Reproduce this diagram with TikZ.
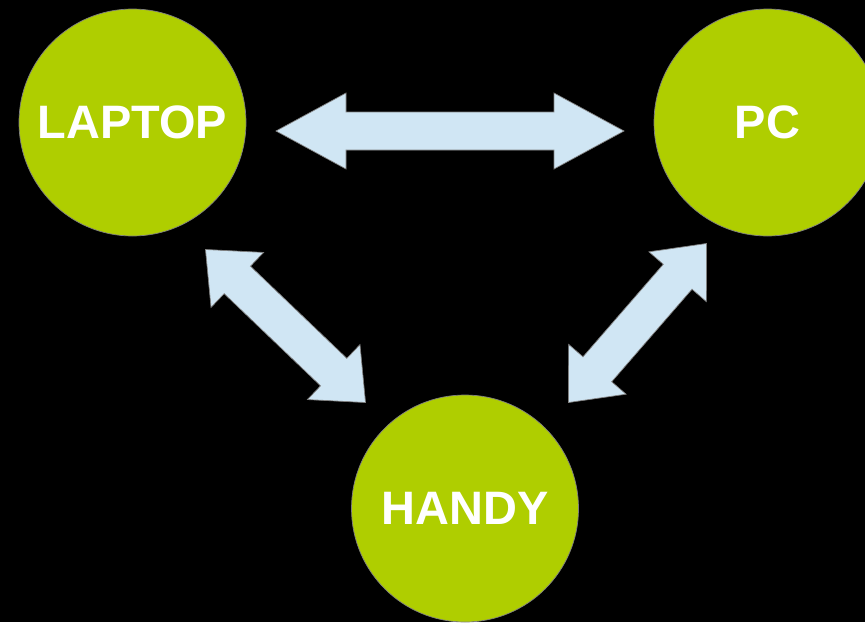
\documentclass[tikz,border=0pt]{standalone}
\usepackage{fontspec}
\setmainfont{Liberation Sans}
\usepackage{tikz}
\usetikzlibrary{calc}
\definecolor{devgreen}{RGB}{175,206,0}
\definecolor{linkblue}{RGB}{208,230,244}

% double block arrow between two named points, #3 = head length
\newcommand{\dblarrow}[3]{%
   \filldraw[link] (#1)
     -- ($(#1)!#3!(#2)!0.76cm!90:(#2)$)
     -- ($(#1)!#3!(#2)!0.38cm!90:(#2)$)
     -- ($(#2)!#3!(#1)!0.38cm!-90:(#1)$)
     -- ($(#2)!#3!(#1)!0.76cm!-90:(#1)$)
     -- (#2)
     -- ($(#2)!#3!(#1)!0.76cm!90:(#1)$)
     -- ($(#2)!#3!(#1)!0.38cm!90:(#1)$)
     -- ($(#1)!#3!(#2)!0.38cm!-90:(#2)$)
     -- ($(#1)!#3!(#2)!0.76cm!-90:(#2)$)
     -- cycle;}

\begin{document}
\begin{tikzpicture}[link/.style={fill=linkblue, draw=gray, line width=0.4pt}]
   \fill[black] (0,0) rectangle (17.3,-12.44);
   \useasboundingbox (0,0) rectangle (17.3,-12.44);
   \begin{scope}[every node/.style={circle, draw=gray, line width=0.4pt, fill=devgreen,
       minimum size=4.54cm, inner sep=0pt, text=white,
       font=\fontsize{26.7}{32}\selectfont\bfseries}]
    \node (laptop) at (2.65,-2.45) {LAPTOP};
    \node (pc) at (15.35,-2.45) {PC};
    \node (handy) at (9.3,-10.17) {HANDY};
   \end{scope}
   % arrow ends
   \coordinate (t1) at (5.52,-2.62);
   \coordinate (t2) at (12.48,-2.62);
   \coordinate (l1) at (4.11,-4.99);
   \coordinate (l2) at (7.31,-8.05);
   \coordinate (r1) at (14.13,-4.87);
   \coordinate (r2) at (11.37,-8.05);
   \dblarrow{t1}{t2}{1.4cm}
   \dblarrow{l1}{l2}{0.88cm}
   \dblarrow{r1}{r2}{0.88cm}
\end{tikzpicture}
\end{document}
